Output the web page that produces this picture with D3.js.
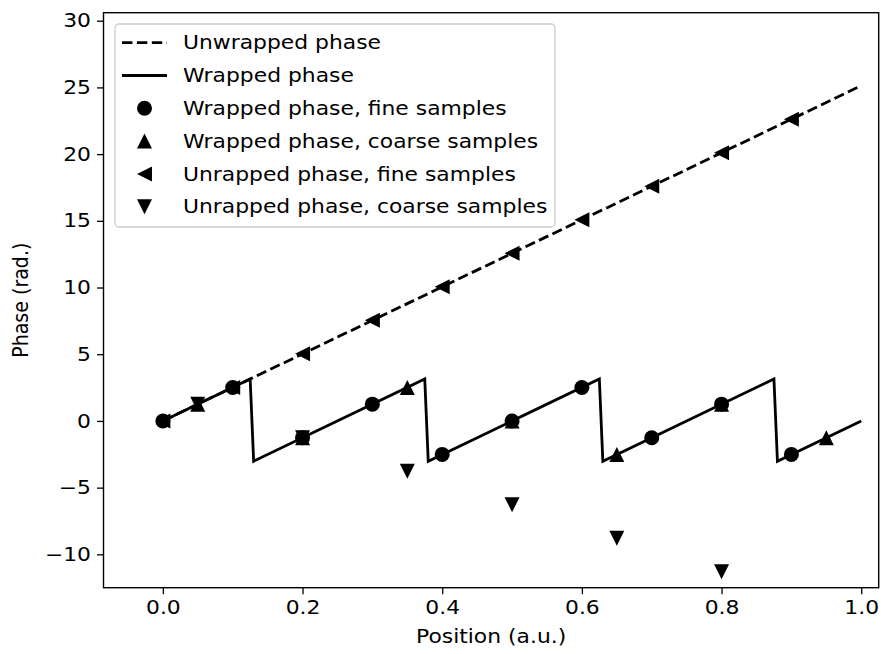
<!DOCTYPE html>
<html>
	<head>
		<meta charset="utf-8">
		<script src="https://cdnjs.cloudflare.com/ajax/libs/d3/7.8.5/d3.min.js" charset="utf-8"></script>
		<style>
			body { margin: 0; background: white; }
			text { font-family: 'DejaVu Sans'; fill: #000; }
		</style>
	</head>
	<body>
		<div id="chart"></div>

		<script>

			///////////////////////////////////////////////////////////////////////////
			/////////////////////////////////// Data //////////////////////////////////
			///////////////////////////////////////////////////////////////////////////

			//Unwrapped phase (dashed line)
			var unwrappedX = [0, 1.0];
			var unwrappedY = [0, 25.13];

			//Wrapped phase (solid line), corners of the saw tooth
			var wrappedX = [0, 0.125, 0.13, 0.375, 0.38, 0.625, 0.63, 0.875, 0.88, 1.0];
			var wrappedY = [0, 3.14, -3.02, 3.14, -3.02, 3.14, -3.02, 3.14, -3.02, 0];

			//Fine samples
			var fineX = [0.0, 0.1, 0.2, 0.3, 0.4, 0.5, 0.6, 0.7, 0.8, 0.9];
			var fineWrapped = [0, 2.51, -1.26, 1.26, -2.51, 0, 2.51, -1.26, 1.26, -2.51];
			var fineUnwrapped = [0, 2.51, 5.03, 7.54, 10.05, 12.57, 15.08, 17.59, 20.11, 22.62];

			//Coarse samples
			var coarseX = [0.05, 0.2, 0.35, 0.5, 0.65, 0.8, 0.95];
			var coarseWrapped = [1.26, -1.26, 2.51, 0, -2.51, 1.26, -1.26];
			var coarseUnwrappedX = [0.05, 0.2, 0.35, 0.5, 0.65, 0.8];
			var coarseUnwrapped = [1.26, -1.26, -3.77, -6.28, -8.80, -11.31];

			//Ticks and labels
			var xTicks = [0.0, 0.2, 0.4, 0.6, 0.8, 1.0];
			var yTicks = [-10, -5, 0, 5, 10, 15, 20, 25, 30];
			var legendLabels = ["Unwrapped phase", "Wrapped phase", "Wrapped phase, fine samples",
				"Wrapped phase, coarse samples", "Unrapped phase, fine samples", "Unrapped phase, coarse samples"];

			///////////////////////////////////////////////////////////////////////////
			//////////////////////////////// Set up svg ///////////////////////////////
			///////////////////////////////////////////////////////////////////////////

			var margin = {top: 12.7, right: 2.3, bottom: 66.3, left: 103.5};
			var width = 881 - margin.left - margin.right,
				height = 654 - margin.top - margin.bottom;

			var fontSize = 19,
				stretch = 1.15; //text in the picture is a bit wider than it is tall

			var svg = d3.select("#chart").append("svg")
				.attr("width", 881)
				.attr("height", 654);

			var g = svg.append("g")
				.attr("transform", "translate(" + margin.left + "," + margin.top + ")");

			var x = d3.scaleLinear().domain([-0.085, 1.025]).range([0, width]);
			var y = d3.scaleLinear().domain([-12.5, 30.6]).range([height, 0]);

			g.append("clipPath").attr("id", "clip")
				.append("rect").attr("width", width).attr("height", height);

			///////////////////////////////////////////////////////////////////////////
			/////////////////////////////////// Axes //////////////////////////////////
			///////////////////////////////////////////////////////////////////////////

			var xAxis = g.append("g")
				.attr("transform", "translate(0," + height + ")")
				.call(d3.axisBottom(x).tickValues(xTicks).tickFormat(d3.format(".1f")).tickSize(6.5).tickPadding(6));

			var yAxis = g.append("g")
				.call(d3.axisLeft(y).tickValues(yTicks).tickFormat(d3.format("d")).tickSize(6.5).tickPadding(6));

			[xAxis, yAxis].forEach(function(ax) {
				ax.select(".domain").remove();
				ax.selectAll(".tick line").attr("stroke", "#000").attr("stroke-width", 1.3);
				ax.selectAll(".tick text")
					.style("font-family", "DejaVu Sans")
					.style("font-size", fontSize + "px")
					.attr("fill", "#000");
			});
			//stretch tick labels horizontally
			xAxis.selectAll(".tick text").attr("transform", "scale(" + stretch + ",1)");
			yAxis.selectAll(".tick text")
				.attr("x", -12.5 / stretch)
				.attr("transform", "scale(" + stretch + ",1)");

			//Axis titles
			g.append("text")
				.attr("transform", "translate(" + (width / 2) + "," + (height + 55) + ") scale(" + stretch + ",1)")
				.style("font-size", fontSize + "px")
				.style("text-anchor", "middle")
				.text("Position (a.u.)");

			g.append("text")
				.attr("transform", "translate(" + (-76) + "," + (height / 2) + ") rotate(-90) scale(1," + stretch + ")")
				.style("font-size", fontSize + "px")
				.style("text-anchor", "middle")
				.text("Phase (rad.)");

			///////////////////////////////////////////////////////////////////////////
			/////////////////////////////// Lines & marks /////////////////////////////
			///////////////////////////////////////////////////////////////////////////

			var plot = g.append("g").attr("clip-path", "url(#clip)");

			var line = d3.line()
				.x(function(d) { return x(d[0]); })
				.y(function(d) { return y(d[1]); });

			plot.append("path")
				.datum(d3.zip(unwrappedX, unwrappedY))
				.attr("d", line)
				.attr("fill", "none")
				.attr("stroke", "#000")
				.attr("stroke-width", 2.8)
				.attr("stroke-dasharray", "10.4,4.5");

			plot.append("path")
				.datum(d3.zip(wrappedX, wrappedY))
				.attr("d", line)
				.attr("fill", "none")
				.attr("stroke", "#000")
				.attr("stroke-width", 2.8)
				.attr("stroke-linejoin", "miter");

			//Marker shapes, matplotlib style
			var ms = 7.5;
			var markers = {
				circle: function() { return "M" + ms + ",0A" + ms + "," + ms + " 0 1,1 " + (-ms) + ",0A" + ms + "," + ms + " 0 1,1 " + ms + ",0Z"; },
				up: function() { return "M0," + (-ms) + "L" + (-ms) + "," + ms + "L" + ms + "," + ms + "Z"; },
				left: function() { return "M" + (-ms) + ",0L" + ms + "," + (-ms) + "L" + ms + "," + ms + "Z"; },
				down: function() { return "M0," + ms + "L" + (-ms) + "," + (-ms) + "L" + ms + "," + (-ms) + "Z"; }
			};

			function drawMarks(xs, ys, shape) {
				plot.append("g").selectAll("path")
					.data(d3.zip(xs, ys))
					.enter().append("path")
					.attr("transform", function(d) { return "translate(" + x(d[0]) + "," + y(d[1]) + ")"; })
					.attr("d", markers[shape]())
					.attr("fill", "#000");
			}

			drawMarks(fineX, fineWrapped, "circle");
			drawMarks(coarseX, coarseWrapped, "up");
			drawMarks(fineX, fineUnwrapped, "left");
			drawMarks(coarseUnwrappedX, coarseUnwrapped, "down");

			//Frame
			g.append("rect")
				.attr("width", width)
				.attr("height", height)
				.attr("fill", "none")
				.attr("stroke", "#000")
				.attr("stroke-width", 1.4);

			///////////////////////////////////////////////////////////////////////////
			////////////////////////////////// Legend /////////////////////////////////
			///////////////////////////////////////////////////////////////////////////

			var legend = svg.append("g").attr("transform", "translate(115,24)");

			legend.append("rect")
				.attr("width", 440)
				.attr("height", 203)
				.attr("rx", 4)
				.attr("fill", "white")
				.attr("fill-opacity", 0.8)
				.attr("stroke", "#cccccc")
				.attr("stroke-width", 1.3);

			var legendShapes = ["dash", "solid", "circle", "up", "left", "down"];

			var row = legend.selectAll(".row")
				.data(legendLabels)
				.enter().append("g")
				.attr("class", "row")
				.attr("transform", function(d, i) { return "translate(0," + (18.7 + i * 32.8) + ")"; });

			row.each(function(d, i) {
				var r = d3.select(this);
				var s = legendShapes[i];
				if (s === "dash" || s === "solid") {
					r.append("line")
						.attr("x1", 7).attr("x2", 52)
						.attr("stroke", "#000")
						.attr("stroke-width", 2.8)
						.attr("stroke-dasharray", s === "dash" ? "10.4,4.5" : null);
				} else {
					r.append("path")
						.attr("transform", "translate(29.5,0)")
						.attr("d", markers[s]())
						.attr("fill", "#000");
				}
				r.append("text")
					.attr("transform", "translate(68,0) scale(" + stretch + ",1)")
					.attr("dy", "0.35em")
					.style("font-size", fontSize + "px")
					.text(d);
			});

		</script>
	</body>
</html>
